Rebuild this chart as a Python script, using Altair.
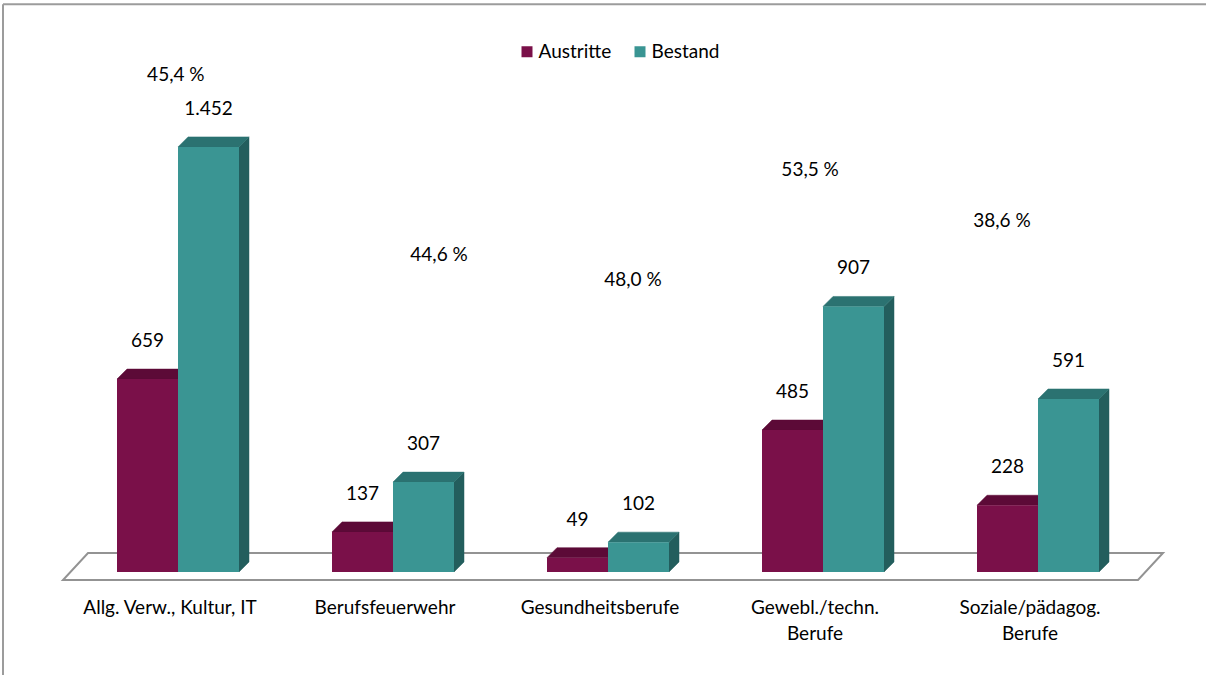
import altair as alt
import pandas as pd

# ---- data -------------------------------------------------------------
categories = [
    "Allg. Verw., Kultur, IT",
    "Berufsfeuerwehr",
    "Gesundheitsberufe",
    "Gewebl./techn.\nBerufe",
    "Soziale/pädagog.\nBerufe",
]
austritte = [659, 137, 49, 485, 228]
bestand = [1452, 307, 102, 907, 591]
series = ["Austritte", "Bestand"]

# hand placement of the ratio labels (shift in category widths, height in axis units)
ratio_shift = [-0.01, 0.214, 0.116, -0.06, -0.168]
ratio_height = [1698, 1083, 998, 1373, 1199]

# ---- styling / geometry ----------------------------------------------
FONT = "Lato"
FONT_SIZE = 19
PLOT_W, PLOT_H = 1075, 527
Y_MAX = 1800
PAD_L, PAD_T = 70.5, 45
N = len(categories)
PX_PER_CAT = PLOT_W / N
PX_PER_UNIT = PLOT_H / Y_MAX

BAR_W = 61 / PX_PER_CAT          # width of one bar in category units
DX = 10 / PX_PER_CAT             # 3-D depth, horizontal
DY = 10 / PX_PER_UNIT            # 3-D depth, vertical

COLORS = {
    "Austritte": {"front": "#7a1049", "top": "#5c0a37", "side": "#4d082e"},
    "Bestand": {"front": "#3a9593", "top": "#2b7271", "side": "#235e5d"},
}

x_scale = alt.Scale(domain=[0, N], nice=False, zero=False)
y_scale = alt.Scale(domain=[0, Y_MAX], nice=False)
X = lambda f: alt.X(f, type="quantitative", scale=x_scale, axis=None)
Y = lambda f: alt.Y(f, type="quantitative", scale=y_scale, axis=None, stack=None)


def bar_span(i, s):
    c = i + 0.5
    return (c - BAR_W, c) if s == "Austritte" else (c, c + BAR_W)


def fmt_int(v):
    return f"{v:,}".replace(",", ".")


values = {"Austritte": austritte, "Bestand": bestand}

# ---- floor -----------------------------------------------------------
f_front = -8 / PX_PER_UNIT
f_back = 19 / PX_PER_UNIT
fx0, bx0 = -7.5 / PX_PER_CAT, 17.5 / PX_PER_CAT
fx1, bx1 = N + fx0, N + bx0
floor_df = pd.DataFrame({
    "x": [fx0, bx0, fx1, bx1],
    "y": [f_front, f_front, f_front, f_back],
    "y2": [f_front, f_back, f_back, f_back],
})
floor = alt.Chart(floor_df).mark_area(
    fill="white", stroke="#939393", strokeWidth=2
).encode(x=X("x"), y=Y("y"), y2="y2")


# ---- bars (front, top and side faces) ---------------------------------
def faces(s):
    fronts, tops, sides = [], [], []
    for i, v in enumerate(values[s]):
        x0, x1 = bar_span(i, s)
        fronts.append({"x": x0, "x2": x1, "y": 0, "y2": v, "series": s})
        bid = f"{s}{i}"
        for xx, ya, yb in [(x0, v, v), (x0 + DX, v, v + DY),
                           (x1, v, v + DY), (x1 + DX, v + DY, v + DY)]:
            tops.append({"x": xx, "y": ya, "y2": yb, "id": bid})
        for xx, ya, yb in [(x1, 0, v), (x1 + DX, DY, v + DY)]:
            sides.append({"x": xx, "y": ya, "y2": yb, "id": bid})
    col = COLORS[s]
    side = alt.Chart(pd.DataFrame(sides)).mark_area(
        color=col["side"], stroke=col["side"], strokeWidth=0.5
    ).encode(x=X("x"), y=Y("y"), y2="y2", detail="id:N")
    top = alt.Chart(pd.DataFrame(tops)).mark_area(
        color=col["top"], stroke=col["top"], strokeWidth=0.5
    ).encode(x=X("x"), y=Y("y"), y2="y2", detail="id:N")
    front = alt.Chart(pd.DataFrame(fronts)).mark_rect().encode(
        x=X("x"), x2="x2", y=Y("y"), y2="y2",
        color=alt.Color(
            "series:N",
            scale=alt.Scale(domain=series,
                            range=[COLORS[k]["front"] for k in series]),
            legend=alt.Legend(
                title=None, orient="none", direction="horizontal",
                legendX=447, legendY=-3, symbolType="square",
                symbolSize=121, symbolStrokeWidth=0, labelFont=FONT,
                labelFontSize=FONT_SIZE, labelColor="#000000",
                labelOffset=2, columnPadding=19, padding=0,
            ),
        ),
    )
    return [side, top, front]


# ---- labels ----------------------------------------------------------
val_rows = []
for s in series:
    for i, v in enumerate(values[s]):
        x0, x1 = bar_span(i, s)
        val_rows.append({"x": (x0 + x1) / 2, "y": v, "label": fmt_int(v)})
value_text = alt.Chart(pd.DataFrame(val_rows)).mark_text(
    font=FONT, fontSize=FONT_SIZE, color="#000000", baseline="middle", dy=-38
).encode(x=X("x"), y=Y("y"), text="label:N")

ratio_df = pd.DataFrame({
    "x": [i + 0.5 + ratio_shift[i] for i in range(N)],
    "y": ratio_height,
    "label": [f"{a / b * 100:.1f}".replace(".", ",") + " %"
              for a, b in zip(austritte, bestand)],
})
ratio_text = alt.Chart(ratio_df).mark_text(
    font=FONT, fontSize=FONT_SIZE, color="#000000", baseline="middle"
).encode(x=X("x"), y=Y("y"), text="label:N")

cat_df = pd.DataFrame({"x": [i + 0.5 for i in range(N)], "label": categories})
cat_text = alt.Chart(cat_df).mark_text(
    font=FONT, fontSize=FONT_SIZE, color="#000000", baseline="top",
    lineBreak="\n", lineHeight=26, dx=-8
).encode(x=X("x"), y=alt.value(PLOT_H + 27), text="label:N")

# ---- frame around the chart -----------------------------------------
one = pd.DataFrame({"k": [0]})
frame_top = alt.Chart(one).mark_rule(color="#9c9c9c", strokeWidth=2).encode(
    x=alt.value(3 - PAD_L), x2=alt.value(1206 - PAD_L), y=alt.value(4.3 - PAD_T)
)
frame_left = alt.Chart(one).mark_rule(color="#9c9c9c", strokeWidth=2).encode(
    x=alt.value(3 - PAD_L), y=alt.value(4.3 - PAD_T), y2=alt.value(675 - PAD_T)
)

layers = [frame_top, frame_left, floor]
for s in series:
    layers += faces(s)
layers += [value_text, ratio_text, cat_text]

chart = alt.layer(*layers).properties(
    width=PLOT_W,
    height=PLOT_H,
    autosize=alt.AutoSizeParams(type="none"),
    padding={"left": PAD_L, "top": PAD_T, "right": 1206 - PAD_L - PLOT_W,
             "bottom": 675 - PAD_T - PLOT_H},
    background="white",
).configure_view(stroke=None)

chart.save("out.html", embed_options={"renderer": "svg", "actions": False})
